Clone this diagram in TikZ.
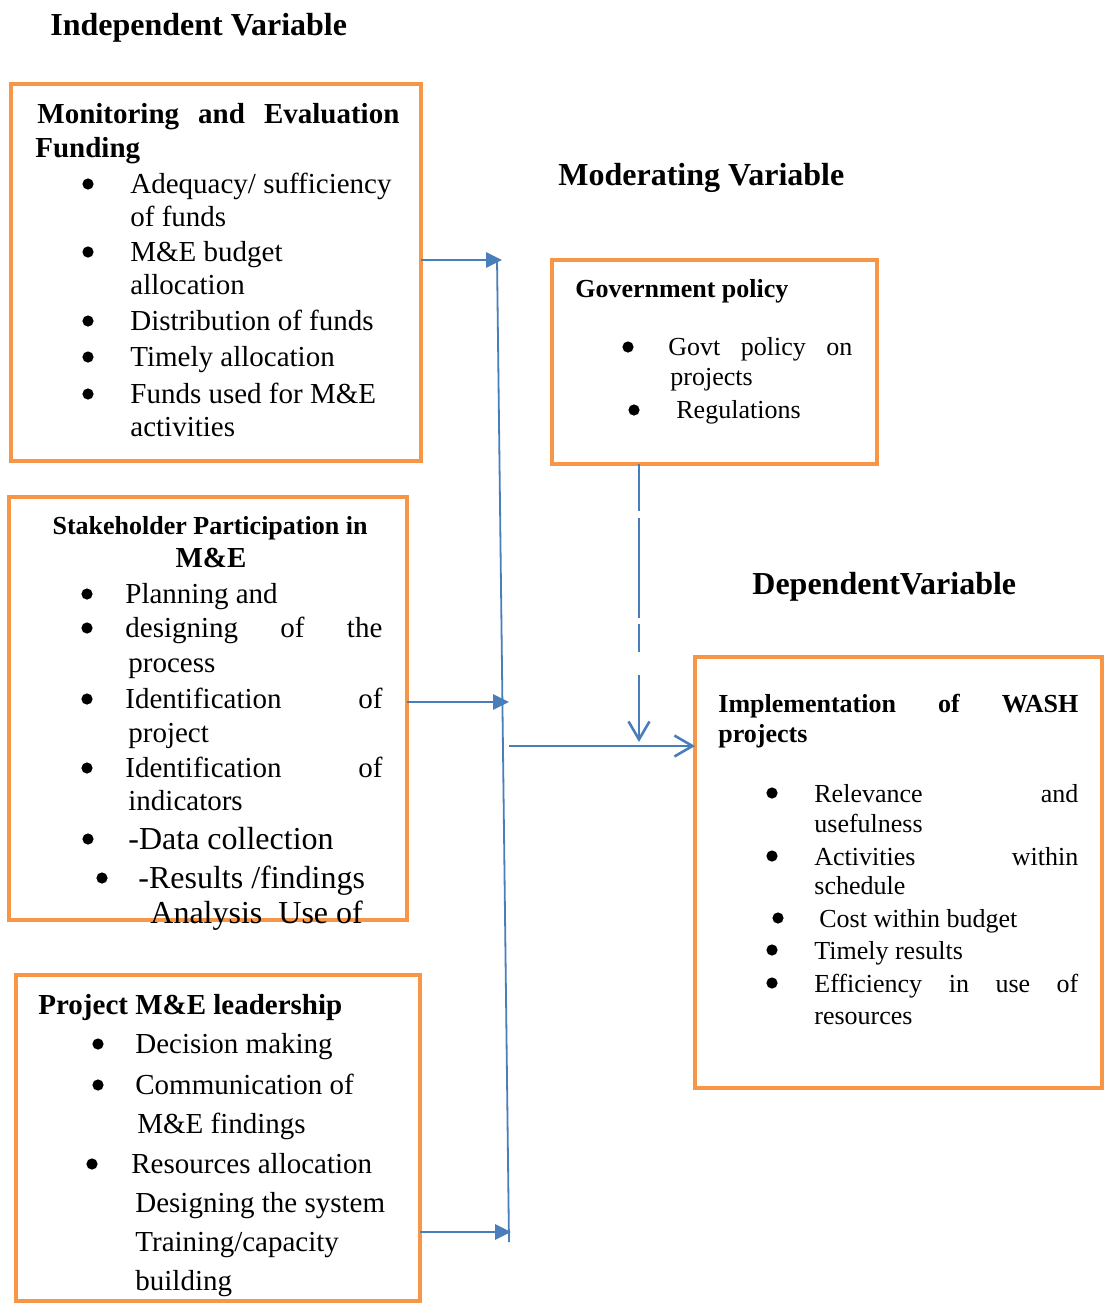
\documentclass[tikz,border=0pt]{standalone}
\usepackage{fontspec}
\setmainfont{Liberation Serif}
\usepackage{tikz}
\usetikzlibrary{arrows.meta,positioning,calc}
\definecolor{cOrange}{HTML}{F79646}
\definecolor{cBlue}{HTML}{4A7EBB}
\newcommand{\fHead}{\fontsize{16pt}{19pt}\selectfont\bfseries}
\newcommand{\fBody}{\fontsize{14.5pt}{17pt}\selectfont}
\newcommand{\fSmall}{\fontsize{13pt}{15pt}\selectfont}
\newcommand{\fBig}{\fontsize{16pt}{19pt}\selectfont}
\newcommand{\jl}[2]{\makebox[#1][s]{#2}}
\tikzset{
  box/.style={rectangle,draw=cOrange,line width=2.2pt,inner sep=0pt,outer sep=0pt},
  tx/.style={anchor=base west,inner sep=0pt,font=\fBody},
  bul/.style={circle,fill=black,inner sep=0pt,minimum size=5.6pt},
  feed/.style={-{Triangle[length=8pt,width=7.5pt]},line width=1.4pt,cBlue},
  bar/.style={line width=0.9pt,cBlue},
  opn/.style={-{Straight Barb[length=9pt,width=10.5pt]},line width=1.3pt,cBlue},
  dashy/.style={opn,dash pattern=on 23.5pt off 3.5pt on 50pt off 3pt on 14pt off 11.5pt on 40pt off 10pt},
}

\begin{document}
\begin{tikzpicture}[x=0.5pt,y=-0.5pt]
  \useasboundingbox (0,0) rectangle (1104,1303);
  % headings
  \node[tx,font=\fHead] (hind) at (50,35) {Independent Variable};
  \node[tx,font=\fHead] (hmod) at (558,185) {Moderating Variable};
  \node[tx,font=\fHead] (hdep) at (752,594) {DependentVariable};
  % boxes
  \node[box,minimum width=205pt,minimum height=188.5pt] (fund) at (216,272.5) {};
  \node[box,minimum width=199pt,minimum height=211.5pt] (stake) at (208,708.5) {};
  \node[box,minimum width=202pt,minimum height=163pt] (lead) at (218,1138) {};
  \node[box,minimum width=162.5pt,minimum height=102pt] (gov) at (714.5,362) {};
  \node[box,minimum width=203.5pt,minimum height=215.5pt] (dep) at (898.5,872.5) {};
  % M&E funding
  \node[tx,font=\fBody\bfseries] (fund-h1) at (37,123) {\jl{181pt}{Monitoring and Evaluation}};
  \node[tx,font=\fBody\bfseries] (fund-h2) at (35,157) {Funding};
  \foreach \y/\t [count=\i] in {193/{Adequacy/ sufficiency},226/{of funds},261/{M\&E budget},294/{allocation},330/{Distribution of funds},366/{Timely allocation},403/{Funds used for M\&E},436/{activities}}
    \node[tx] (fund-t\i) at (130,\y) {\t};
  \foreach \y [count=\i] in {184,252,321,357,394}
    \node[bul] (fund-b\i) at (88,\y) {};
  % stakeholder participation
  \node[anchor=base,inner sep=0pt,font=\fSmall\bfseries] (stake-h1) at (210,534) {Stakeholder Participation in};
  \node[anchor=base,inner sep=0pt,font=\fBody\bfseries] (stake-h2) at (211,567) {M\&E};
  \foreach \x/\y/\t [count=\i] in {125/603/{Planning and},125/637/{\jl{128.5pt}{designing of the}},128/672/{process},125/708/{\jl{128.5pt}{Identification of}},128/742/{project},125/777/{\jl{128.5pt}{Identification of}},128/810/{indicators}}
    \node[tx] (stake-t\i) at (\x,\y) {\t};
  \node[tx,font=\fBig] (stake-t8) at (128,849) {-Data collection};
  \node[tx,font=\fBig] (stake-t9) at (138,888) {-Results /findings};
  \node[tx,font=\fBig] (stake-t10) at (150,923) {Analysis\hspace{8pt}Use of};
  \foreach \x/\y [count=\i] in {87/594,87/628,87/699,87/768,88/839,102/878}
    \node[bul] (stake-b\i) at (\x,\y) {};
  % leadership
  \node[tx,font=\fBody\bfseries] (lead-h) at (38,1014) {Project M\&E leadership};
  \foreach \x/\y/\t [count=\i] in {135/1053/{Decision making},135/1094/{Communication of},137/1133/{M\&E findings},131/1173/{Resources allocation},135/1212/{Designing the system},135/1251/{Training/capacity},135/1290/{building}}
    \node[tx] (lead-t\i) at (\x,\y) {\t};
  \foreach \x/\y [count=\i] in {98/1044,98/1085,92/1164}
    \node[bul] (lead-b\i) at (\x,\y) {};
  % government policy
  \node[tx,font=\fSmall\bfseries] (gov-h) at (575,297) {Government policy};
  \node[tx,font=\fSmall] (gov-t1) at (668,355) {\jl{92pt}{Govt policy on}};
  \node[tx,font=\fSmall] (gov-t2) at (670,385) {projects};
  \node[tx,font=\fSmall] (gov-t3) at (676,418) {Regulations};
  \node[bul] (gov-b1) at (628,347) {};
  \node[bul] (gov-b2) at (634,410) {};
  % WASH implementation
  \node[tx,font=\fSmall\bfseries] (dep-h1) at (718,712) {\jl{180pt}{Implementation of WASH}};
  \node[tx,font=\fSmall\bfseries] (dep-h2) at (718,742) {projects};
  \foreach \x/\y/\t [count=\i] in {814/802/{\jl{132pt}{Relevance and}},814/832/{usefulness},814/865/{\jl{132pt}{Activities within}},814/894/{schedule},819/927/{Cost within budget},814/959/{Timely results},814/992/{\jl{132pt}{Efficiency in use of}},814/1024/{resources}}
    \node[tx,font=\fSmall] (dep-t\i) at (\x,\y) {\t};
  \foreach \x/\y [count=\i] in {772/793,772/856,778/918,772/950,772/983}
    \node[bul] (dep-b\i) at (\x,\y) {};
  % connectors
  \coordinate (a1) at (502,260);
  \coordinate (a2) at (509,702);
  \coordinate (a3) at (511,1232);
  \coordinate (bartop) at (497,258);
  \coordinate (barbot) at (509,1242);
  \coordinate (out) at (509,746);
  \coordinate (mod) at (639,742);
  \draw[bar] (bartop) -- (barbot);
  \draw[feed] (fund.east |- a1) -- (a1);
  \draw[feed] (stake.east |- a2) -- (a2);
  \draw[feed] (lead.east |- a3) -- (a3);
  \draw[opn] (out) -- (dep.west |- out);
  \draw[dashy] (gov.south -| mod) -- (mod);
\end{tikzpicture}
\end{document}
